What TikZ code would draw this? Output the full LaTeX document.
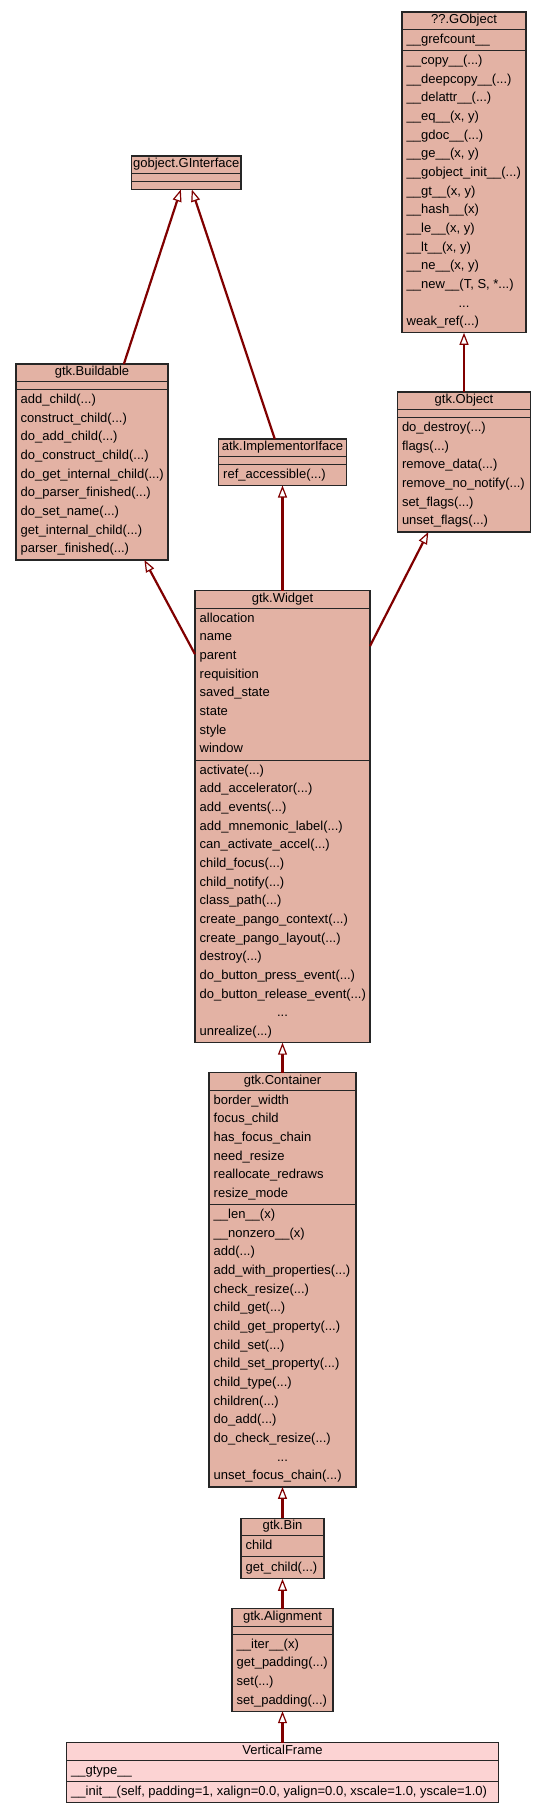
\documentclass[tikz,border=0pt]{standalone}
\usepackage{fontspec}
\setmainfont{Liberation Sans}
\usepackage{xcolor}
\usetikzlibrary{arrows.meta}
\definecolor{classfill}{RGB}{227,178,164}
\definecolor{mainfill}{RGB}{252,211,211}
\definecolor{edgered}{RGB}{128,0,0}
\newcommand{\mdots}{...}
\tikzset{
  classbox/.style={draw=black!85, line width=1.2pt, fill=classfill, anchor=north west, inner sep=0pt, outer sep=0pt},
  mainbox/.style={classbox, fill=mainfill},
  divider/.style={draw=black!85, line width=1.2pt},
  classname/.style={anchor=base, inner sep=0pt, font=\fontsize{13}{15}\selectfont},
  member/.style={anchor=base west, inner sep=0pt, font=\fontsize{13}{15}\selectfont},
  inherits/.style={draw=edgered, line width=2.2pt, -{Triangle[length=12pt, width=9pt, line width=1.2pt, fill=white]}},
}

\begin{document}
\begin{tikzpicture}[x=1pt, y=-1pt]
\path [fill=white] (0,0) rectangle (547,1813);

\node (gobject) at (402,12) [classbox, minimum width=124pt, minimum height=320.8pt] {};
\draw [divider] (402,29.5) -- (526,29.5);
\draw [divider] (402,50.5) -- (526,50.5);
\node (gobject-t) at (464,23.5) [classname] {??.GObject};
\node (gobject-a0) at (406.5,43.5) [member] {\_\_grefcount\_\_};
\foreach \m [count=\i from 0] in {\_\_copy\_\_(\mdots), \_\_deepcopy\_\_(\mdots), \_\_delattr\_\_(\mdots), {\_\_eq\_\_(x, y)}, \_\_gdoc\_\_(\mdots), {\_\_ge\_\_(x, y)}, \_\_gobject\_init\_\_(\mdots), {\_\_gt\_\_(x, y)}, \_\_hash\_\_(x), {\_\_le\_\_(x, y)}, {\_\_lt\_\_(x, y)}, {\_\_ne\_\_(x, y)}, {\_\_new\_\_(T, S, *\mdots)}}
  \node (gobject-m\i) at (406.5,{64.5+18.67*\i}) [member] {\m};
\node (gobject-m13) at (464,{64.5+18.67*13}) [classname] {...};
\node (gobject-m14) at (406.5,{64.5+18.67*14}) [member] {weak\_ref(...)};

\node (ginterface) at (131.5,156) [classbox, minimum width=109.5pt, minimum height=33.5pt] {};
\draw [divider] (131.5,173.5) -- (241,173.5);
\draw [divider] (131.5,181.5) -- (241,181.5);
\node (ginterface-t) at (186.25,167.5) [classname] {gobject.GInterface};

\node (buildable) at (16,364) [classbox, minimum width=152pt, minimum height=196pt] {};
\draw [divider] (16,381.5) -- (168,381.5);
\draw [divider] (16,389.5) -- (168,389.5);
\node (buildable-t) at (92,375.5) [classname] {gtk.Buildable};
\foreach \m [count=\i from 0] in {add\_child(\mdots), construct\_child(\mdots), do\_add\_child(\mdots), do\_construct\_child(\mdots), do\_get\_internal\_child(\mdots), do\_parser\_finished(\mdots), do\_set\_name(\mdots), get\_internal\_child(\mdots), parser\_finished(\mdots)}
  \node (buildable-m\i) at (20.5,{403.5+18.67*\i}) [member] {\m};

\node (implementor) at (218.5,439) [classbox, minimum width=128pt, minimum height=46.5pt] {};
\draw [divider] (218.5,456.5) -- (346.5,456.5);
\draw [divider] (218.5,464.5) -- (346.5,464.5);
\node (implementor-t) at (282.5,450.5) [classname] {atk.ImplementorIface};
\node (implementor-m0) at (223,478.5) [member] {ref\_accessible(...)};

\node (gtkobject) at (397.3,392) [classbox, minimum width=133.4pt, minimum height=140pt] {};
\draw [divider] (397.3,409.5) -- (530.7,409.5);
\draw [divider] (397.3,417.5) -- (530.7,417.5);
\node (gtkobject-t) at (464,403.5) [classname] {gtk.Object};
\foreach \m [count=\i from 0] in {do\_destroy(\mdots), flags(\mdots), remove\_data(\mdots), remove\_no\_notify(\mdots), set\_flags(\mdots), unset\_flags(\mdots)}
  \node (gtkobject-m\i) at (401.8,{431.5+18.67*\i}) [member] {\m};

\node (widget) at (195,590.7) [classbox, minimum width=175pt, minimum height=452pt] {};
\draw [divider] (195,608.2) -- (370,608.2);
\draw [divider] (195,760.2) -- (370,760.2);
\node (widget-t) at (282.5,602.2) [classname] {gtk.Widget};
\foreach \a [count=\i from 0] in {allocation, name, parent, requisition, saved\_state, state, style, window}
  \node (widget-a\i) at (199.5,{622.2+18.67*\i}) [member] {\a};
\foreach \m [count=\i from 0] in {activate(\mdots), add\_accelerator(\mdots), add\_events(\mdots), add\_mnemonic\_label(\mdots), can\_activate\_accel(\mdots), child\_focus(\mdots), child\_notify(\mdots), class\_path(\mdots), create\_pango\_context(\mdots), create\_pango\_layout(\mdots), destroy(\mdots), do\_button\_press\_event(\mdots), do\_button\_release\_event(\mdots)}
  \node (widget-m\i) at (199.5,{774.2+18.67*\i}) [member] {\m};
\node (widget-m13) at (282.5,{774.2+18.67*13}) [classname] {...};
\node (widget-m14) at (199.5,{774.2+18.67*14}) [member] {unrealize(...)};

\node (container) at (209,1072.7) [classbox, minimum width=147pt, minimum height=414.2pt] {};
\draw [divider] (209,1090.2) -- (356,1090.2);
\draw [divider] (209,1204.5) -- (356,1204.5);
\node (container-t) at (282.5,1084.2) [classname] {gtk.Container};
\foreach \a [count=\i from 0] in {border\_width, focus\_child, has\_focus\_chain, need\_resize, reallocate\_redraws, resize\_mode}
  \node (container-a\i) at (213.5,{1104.2+18.67*\i}) [member] {\a};
\foreach \m [count=\i from 0] in {\_\_len\_\_(x), \_\_nonzero\_\_(x), add(\mdots), add\_with\_properties(\mdots), check\_resize(\mdots), child\_get(\mdots), child\_get\_property(\mdots), child\_set(\mdots), child\_set\_property(\mdots), child\_type(\mdots), children(\mdots), do\_add(\mdots), do\_check\_resize(\mdots)}
  \node (container-m\i) at (213.5,{1218.5+18.67*\i}) [member] {\m};
\node (container-m13) at (282.5,{1218.5+18.67*13}) [classname] {...};
\node (container-m14) at (213.5,{1218.5+18.67*14}) [member] {unset\_focus\_chain(...)};

\node (bin) at (241,1518.3) [classbox, minimum width=83pt, minimum height=60.5pt] {};
\draw [divider] (241,1535.8) -- (324,1535.8);
\draw [divider] (241,1556.8) -- (324,1556.8);
\node (bin-t) at (282.5,1529.8) [classname] {gtk.Bin};
\node (bin-a0) at (245.5,1549.8) [member] {child};
\node (bin-m0) at (245.5,1571) [member] {get\_child(...)};

\node (alignment) at (232,1608.7) [classbox, minimum width=101pt, minimum height=102.5pt] {};
\draw [divider] (232,1626.2) -- (333,1626.2);
\draw [divider] (232,1634.2) -- (333,1634.2);
\node (alignment-t) at (282.5,1620.2) [classname] {gtk.Alignment};
\foreach \m [count=\i from 0] in {\_\_iter\_\_(x), get\_padding(\mdots), set(\mdots), set\_padding(\mdots)}
  \node (alignment-m\i) at (236.5,{1648.2+18.67*\i}) [member] {\m};

\node (verticalframe) at (66.5,1742.7) [mainbox, minimum width=432pt, minimum height=59.6pt] {};
\draw [divider] (66.5,1760.2) -- (498.5,1760.2);
\draw [divider] (66.5,1781.2) -- (498.5,1781.2);
\node (verticalframe-t) at (282.5,1754.2) [classname] {VerticalFrame};
\node (verticalframe-a0) at (71,1774.2) [member] {\_\_gtype\_\_};
\node (verticalframe-m0) at (71,1795.2) [member] {\_\_init\_\_(self, padding=1, xalign=0.0, yalign=0.0, xscale=1.0, yscale=1.0)};

\draw [inherits] (buildable) -- (ginterface);
\draw [inherits] (implementor) -- (ginterface);
\draw [inherits] (gtkobject) -- (gobject);
\draw [inherits] (widget) -- (buildable);
\draw [inherits] (widget) -- (implementor);
\draw [inherits] (widget) -- (gtkobject);
\draw [inherits] (container) -- (widget);
\draw [inherits] (bin) -- (container);
\draw [inherits] (alignment) -- (bin);
\draw [inherits] (verticalframe) -- (alignment);
\end{tikzpicture}
\end{document}
